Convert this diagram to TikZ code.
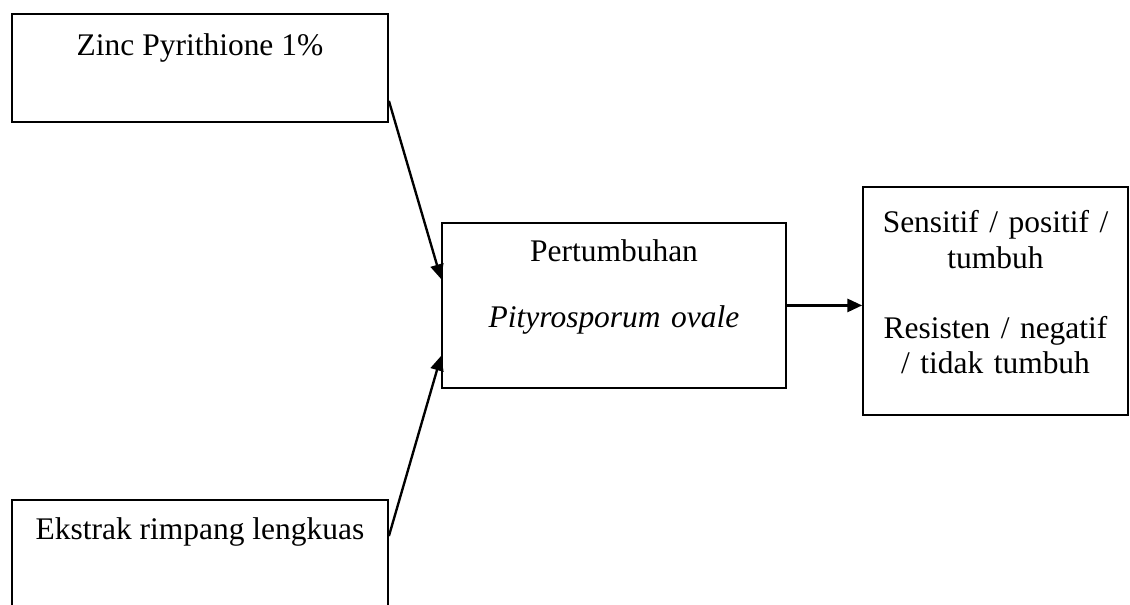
\documentclass[tikz,border=0pt]{standalone}
\usepackage{fontspec}
\setmainfont{Liberation Serif}
\usetikzlibrary{arrows.meta}
\begin{document}
\begin{tikzpicture}[
    box/.style={draw, line width=0.7pt, inner xsep=0pt, inner ysep=0pt, align=center,
        font=\fontsize{12pt}{13.4pt}\selectfont},
    arr/.style={-{Triangle[length=5.6pt, width=5pt]}, line width=0.9pt}]
        \useasboundingbox (0,0) rectangle (15.142,8.107);

        \node [box, minimum width=5.038cm, text height=0.56cm, text depth=0.887cm] (zinc) at (2.680,7.196) {Zinc Pyrithione 1\%};
        \node [box, minimum width=5.038cm, text height=0.536cm, text depth=0.911cm] (ekstrak) at (2.680,0.684) {Ekstrak rimpang lengkuas};
        \node [box, minimum width=4.610cm, text width=4.4cm, text height=0.523cm, text depth=1.688cm] (tumbuh) at (8.228,4.014)
            {Pertumbuhan\\[11.7pt]\textit{Pityrosporum ovale}};
        \node [box, minimum width=3.551cm, text width=3.4cm, text height=0.616cm, text depth=2.439cm] (hasil) at (13.340,4.074)
            {Sensitif / positif /\\ tumbuh\\[13.3pt] Resisten / negatif\\ / tidak tumbuh};

        \draw [arr] ([yshift=0.295cm]zinc.south east) -- ([yshift=-0.764cm]tumbuh.north west);
        \draw [arr] ([yshift=-0.496cm]ekstrak.north east) -- ([yshift=0.442cm]tumbuh.south west);
        \draw [arr] (tumbuh.east) -- (tumbuh.east -| hasil.west);

    \end{tikzpicture}
\end{document}
